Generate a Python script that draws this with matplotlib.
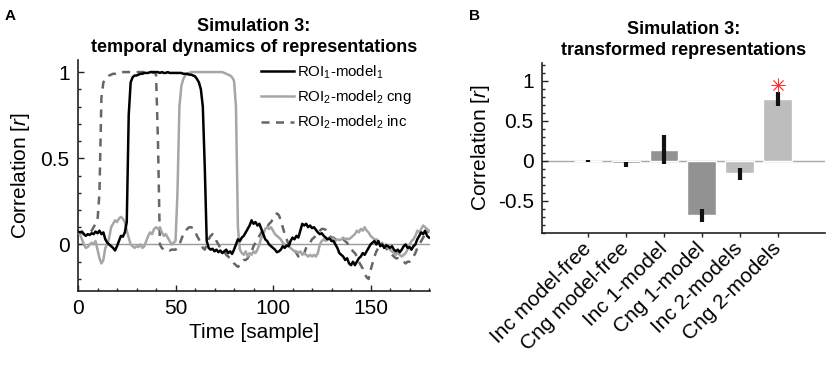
import numpy as np
import matplotlib
matplotlib.use("Agg")
import matplotlib.pyplot as plt
from matplotlib.ticker import MultipleLocator
from matplotlib.transforms import ScaledTranslation

plt.rcParams['font.family'] = ['Liberation Sans', 'DejaVu Sans']
plt.rcParams['mathtext.fontset'] = 'custom'
plt.rcParams['mathtext.rm'] = 'Liberation Sans'
plt.rcParams['mathtext.it'] = 'Liberation Sans:italic'
plt.rcParams['mathtext.bf'] = 'Liberation Sans:bold'

# Panel A: correlation time courses (one value per sample, 0..180)
samples = np.arange(181)

roi1_model1 = [
    0.075, 0.07, 0.075, 0.06, 0.05, 0.06, 0.055, 0.065, 0.06, 0.075,
    0.065, 0.08, 0.06, 0.07, 0.03, 0.01, 0.0, -0.01, -0.02, -0.035,
    -0.01, 0.02, 0.05, 0.045, 0.07, 0.13, 0.75, 0.94, 0.97, 0.98,
    0.98, 0.985, 0.99, 0.99, 0.995, 0.995, 0.995, 1.0, 1.0, 1.0,
    1.0, 1.0, 0.995, 1.0, 0.995, 0.995, 1.0, 0.995, 0.995, 0.995,
    0.995, 0.995, 0.995, 0.995, 0.99, 0.99, 0.99, 0.985, 0.985, 0.98,
    0.975, 0.96, 0.94, 0.9, 0.8, 0.45, 0.02, -0.02, -0.03, -0.025,
    -0.04, -0.03, -0.045, -0.035, -0.05, -0.04, -0.03, -0.05, -0.04, -0.055,
    -0.03, 0.0, 0.03, 0.02, 0.04, 0.05, 0.07, 0.09, 0.11, 0.14,
    0.12, 0.13, 0.11, 0.12, 0.09, 0.06, 0.03, 0.02, 0.0, -0.01,
    -0.02, -0.03, -0.045, -0.04, -0.03, -0.01, -0.02, -0.005, -0.01, 0.02,
    0.04, 0.03, 0.05, 0.04, 0.08, 0.12, 0.11, 0.12, 0.10, 0.11,
    0.095, 0.10, 0.085, 0.07, 0.06, 0.065, 0.05, 0.04, 0.03, 0.035,
    0.02, 0.02, 0.0, -0.02, -0.05, -0.06, -0.07, -0.09, -0.08, -0.11,
    -0.12, -0.1, -0.12, -0.1, -0.08, -0.07, -0.05, -0.06, -0.04, -0.02,
    0.0, 0.01, 0.02, 0.0, 0.02, -0.01, 0.0, -0.02, -0.005, -0.01,
    -0.02, -0.01, -0.03, -0.04, -0.03, -0.045, -0.03, -0.01, 0.0, -0.02,
    -0.015, -0.03, -0.01, 0.0, 0.03, 0.05, 0.07, 0.06, 0.08, 0.05, 0.04,
]

roi2_model2_cng = [
    0.07, 0.06, 0.03, 0.0, -0.02, -0.015, 0.0, 0.01, 0.0, 0.02,
    -0.03, -0.08, -0.11, -0.09, -0.02, 0.0, 0.04, 0.1, 0.12, 0.14,
    0.13, 0.15, 0.16, 0.15, 0.13, 0.08, 0.04, 0.0, -0.01, -0.02,
    -0.01, -0.015, 0.0, -0.02, -0.01, 0.02, 0.05, 0.07, 0.06, 0.09,
    0.1, 0.09, 0.1, 0.07, 0.05, 0.06, 0.04, 0.02, 0.0, 0.01,
    0.02, 0.3, 0.8, 0.92, 0.96, 0.98, 0.99, 0.995, 1.0, 1.0,
    1.0, 1.0, 1.0, 1.0, 1.0, 1.0, 1.0, 1.0, 1.0, 1.0,
    1.0, 1.0, 1.0, 1.0, 1.0, 0.995, 0.99, 0.985, 0.98, 0.97,
    0.95, 0.8, 0.1, -0.03, -0.05, -0.06, -0.04, -0.07, -0.05, -0.06,
    -0.04, -0.05, -0.03, 0.0, 0.04, 0.06, 0.09, 0.1, 0.09, 0.1,
    0.08, 0.06, 0.05, 0.04, 0.03, 0.01, 0.0, -0.01, -0.01, -0.02,
    -0.03, -0.04, -0.04, -0.05, -0.04, -0.06, -0.05, -0.06, -0.07, -0.06,
    -0.07, -0.06, -0.07, -0.05, 0.0, 0.02, 0.03, 0.02, 0.03, 0.04,
    0.03, 0.035, 0.02, 0.03, 0.025, 0.03, 0.04, 0.03, 0.035, 0.03,
    0.04, 0.05, 0.06, 0.08, 0.07, 0.09, 0.08, 0.1, 0.08, 0.07,
    0.05, 0.04, 0.03, 0.03, 0.02, 0.0, 0.01, -0.01, 0.0, -0.02,
    -0.03, -0.04, -0.05, -0.06, -0.05, -0.06, -0.07, -0.06, -0.05, -0.03,
    0.0, 0.02, 0.03, 0.05, 0.08, 0.07, 0.09, 0.11, 0.1, 0.09, 0.08,
]

roi2_model2_inc = [
    0.07, 0.065, 0.07, 0.06, 0.06, 0.065, 0.07, 0.08, 0.1, 0.12,
    0.14, 0.3, 0.85, 0.94, 0.96, 0.97, 0.98, 0.985, 0.99, 0.99,
    0.995, 1.0, 1.0, 1.0, 1.0, 1.0, 1.0, 1.0, 1.0, 1.0,
    1.0, 1.0, 1.0, 1.0, 1.0, 1.0, 1.0, 1.0, 1.0, 0.995,
    0.99, 0.6, 0.0, -0.02, -0.03, -0.025, -0.03, -0.035, -0.03, -0.03,
    -0.03, -0.02, 0.0, 0.03, 0.06, 0.08, 0.09, 0.1, 0.1, 0.095,
    0.08, 0.05, 0.03, 0.0, -0.02, -0.03, 0.0, 0.03, 0.05, 0.06,
    0.05, 0.02, 0.0, -0.02, -0.03, -0.04, -0.06, -0.07, -0.08, -0.09,
    -0.11, -0.12, -0.13, -0.12, -0.1, -0.09, -0.09, -0.08, -0.06, -0.04,
    -0.01, 0.01, 0.03, 0.05, 0.07, 0.08, 0.09, 0.1, 0.12, 0.13,
    0.15, 0.17, 0.18, 0.17, 0.14, 0.1, 0.06, 0.03, 0.0, -0.01,
    -0.02, -0.03, -0.05, -0.07, -0.08, -0.07, -0.05, -0.02, 0.0, 0.01,
    0.03, 0.04, 0.05, 0.07, 0.08, 0.09, 0.09, 0.085, 0.07, 0.05,
    0.04, 0.04, 0.03, 0.03, 0.03, 0.025, 0.03, 0.02, 0.01, -0.01,
    -0.02, -0.04, -0.05, -0.07, -0.1, -0.12, -0.14, -0.17, -0.19, -0.2,
    -0.15, -0.11, -0.07, -0.04, -0.02, 0.0, 0.0, -0.01, -0.02, -0.04,
    -0.05, -0.06, -0.07, -0.08, -0.08, -0.09, -0.1, -0.1, -0.11, -0.1,
    -0.1, -0.09, -0.07, -0.05, -0.02, 0.0, 0.02, 0.04, 0.06, 0.08, 0.07,
]

# Panel B: bar values with error ranges
conditions = ['Inc model-free', 'Cng model-free', 'Inc 1-model',
              'Cng 1-model', 'Inc 2-models', 'Cng 2-models']
bar_r = [0.0, -0.03, 0.14, -0.67, -0.155, 0.77]
err_low = [-0.02, -0.075, -0.04, -0.76, -0.235, 0.68]
err_high = [0.015, -0.02, 0.32, -0.60, -0.09, 0.86]
signif = [5]          # index of the bar marked with a star
star_y = 0.94

fig = plt.figure(figsize=(8.29, 3.72), dpi=100)

# ---------------- panel A ----------------
axA = fig.add_axes([0.0941, 0.2177, 0.4246, 0.621])
axA.axhline(0, color='#9a9a9a', lw=1.0, zorder=1)
axA.plot(samples, roi1_model1, color='black', lw=1.8, label='ROI$_{1}$-model$_{1}$', zorder=4)
axA.plot(samples, roi2_model2_cng, color='#a6a6a6', lw=1.8, label='ROI$_{2}$-model$_{2}$ cng', zorder=3)
axA.plot(samples, roi2_model2_inc, color='#666666', lw=1.8, ls=(0, (3.2, 2.6)),
         label='ROI$_{2}$-model$_{2}$ inc', zorder=2)
axA.set_xlim(0, 180.5)
axA.set_ylim(-0.27, 1.07)
axA.set_xticks([0, 50, 100, 150])
axA.set_yticks([0, 0.5, 1])
axA.set_yticklabels(['0', '0.5', '1'])
axA.xaxis.set_minor_locator(MultipleLocator(10))
axA.yaxis.set_minor_locator(MultipleLocator(0.1))
axA.set_xlabel('Time [sample]', fontsize=15, labelpad=3)
axA.set_ylabel('Correlation [$\\it{r}$]', fontsize=15, labelpad=6)
axA.set_title('Simulation 3:\ntemporal dynamics of representations',
              fontsize=13, fontweight='bold', pad=6, linespacing=1.25)
leg = axA.legend(loc='upper left', bbox_to_anchor=(0.52, 0.985), frameon=False,
                 fontsize=10.8, handlelength=2.2, handletextpad=0.2,
                 labelspacing=0.5, borderpad=0, borderaxespad=0)

# ---------------- panel B ----------------
axB = fig.add_axes([0.6538, 0.3737, 0.3414, 0.457])
pos = np.arange(1, len(bar_r) + 1)
bar_colors = ['#7a7a7a', '#7a7a7a', '#929292', '#929292', '#bdbdbd', '#bdbdbd']
axB.axhline(0, color='#a8a8a8', lw=1.0, zorder=1)
axB.bar(pos, bar_r, width=0.76, color=bar_colors, edgecolor='white', lw=1.0, zorder=2)
axB.vlines(pos, err_low, err_high, color='#111111', lw=3.0, zorder=3)
axB.plot(pos[signif], [star_y] * len(signif), ls='none', marker=(8, 2, 0),
         ms=10, mec='#ff3030', mew=0.6, zorder=4)
axB.set_xlim(-0.21, 7.24)
axB.set_ylim(-0.9, 1.22)
axB.set_xticks(pos)
axB.set_xticklabels(conditions, rotation=45, ha='right', va='center',
                    rotation_mode='anchor', fontsize=14.5)
axB.set_yticks([-0.5, 0, 0.5, 1])
axB.set_yticklabels(['-0.5', '0', '0.5', '1'])
axB.yaxis.set_minor_locator(MultipleLocator(0.1))
axB.set_ylabel('Correlation [$\\it{r}$]', fontsize=15, labelpad=4)
axB.set_title('Simulation 3:\ntransformed representations',
              fontsize=13, fontweight='bold', pad=6, linespacing=1.25)
offset = ScaledTranslation(8 / 100, -14 / 100, fig.dpi_scale_trans)
for lab in axB.get_xticklabels():
    lab.set_transform(lab.get_transform() + offset)

for ax in (axA, axB):
    for side in ('top', 'right'):
        ax.spines[side].set_visible(False)
    for side in ('left', 'bottom'):
        ax.spines[side].set_linewidth(1.2)
        ax.spines[side].set_color('#222222')
    ax.tick_params(which='both', direction='in', width=1.0, color='#222222')
    ax.tick_params(which='major', length=4, labelsize=15, pad=6)
    ax.tick_params(which='minor', length=2.5)

axB.tick_params(axis='x', which='major', direction='out', length=3, pad=6)

fig.text(0.006, 0.975, 'A', fontsize=11, fontweight='bold', va='top', ha='left')
fig.text(0.566, 0.975, 'B', fontsize=11, fontweight='bold', va='top', ha='left')

fig.savefig('out.png', dpi=100)
